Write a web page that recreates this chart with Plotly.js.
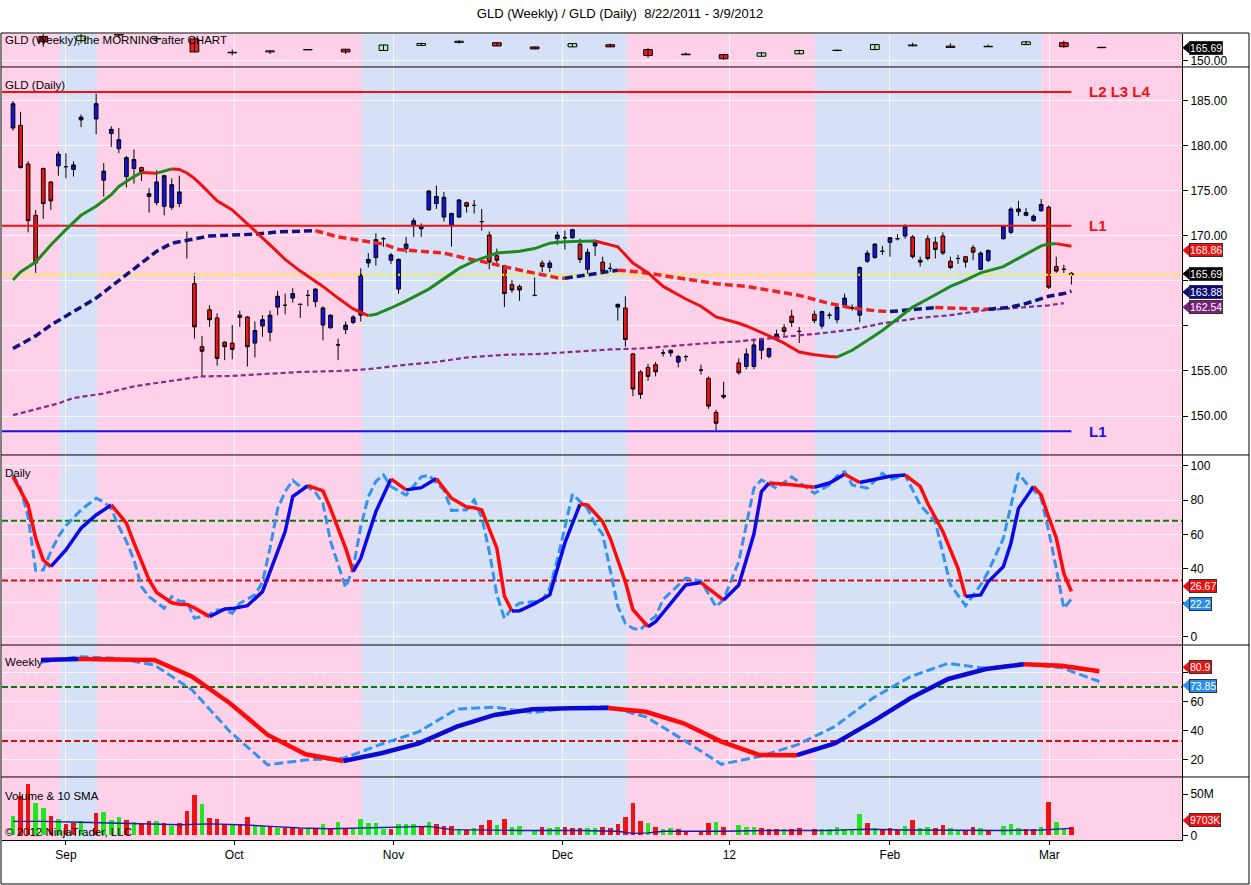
<!DOCTYPE html>
<html><head><meta charset="utf-8">
<script src="https://cdn.plot.ly/plotly-3.0.1.min.js"></script>
<style>html,body{margin:0;padding:0;background:#fff}#chart{width:1251px;height:885px}</style>
</head><body><div id="chart"></div>
<script>
// ---------------- DATA ----------------
const firstDay = '2011-08-22', lastDay = '2012-03-05';
const holidays = ['2011-09-05','2011-11-24','2011-12-26','2012-01-02','2012-01-16','2012-02-20'];

const dOpen = [182.0,182.3,178.0,172.3,177.5,176.0,177.8,177.7,177.4,182.9,
183.0,176.2,181.4,179.7,176.6,177.5,177.6,174.4,173.7,173.3,173.2,173.6,169.5,164.7,
157.7,161.8,160.9,158.2,158.1,161.2,161.0,158.1,160.0,159.3,162.1,162.3,163.1,162.4,163.4,
162.7,160.1,159.8,157.9,159.6,160.4,161.2,167.0,167.6,169.7,167.3,164.1,168.6,171.2,170.8,
172.9,173.6,172.1,171.2,172.1,173.7,173.4,171.6,170.1,167.8,166.7,164.6,164.4,163.4,
167.0,166.5,169.7,169.8,169.8,169.1,166.3,168.9,167.1,166.4,162.1,162.0,156.9,154.9,155.4,
155.7,157.0,157.0,156.0,156.6,155.1,154.2,150.4,152.3,155.9,155.5,155.5,157.3,
156.6,158.6,159.8,161.1,159.4,161.3,160.0,161.2,160.7,162.3,162.0,161.2,167.2,167.6,
168.3,169.3,169.7,170.0,169.9,167.3,169.7,169.3,170.0,167.2,167.5,167.7,168.7,166.3,167.3,
169.7,170.4,172.7,172.3,171.7,172.8,173.2,166.6,166.3,165.85];
const dHigh = [185.0,183.8,178.3,172.9,177.6,176.1,179.4,179.2,178.3,183.5,
185.8,178.1,182.2,182.0,178.9,179.6,177.7,175.3,177.3,176.8,176.4,176.7,170.5,165.9,
158.9,162.3,161.4,158.3,160.1,161.7,161.1,160.5,161.2,161.7,163.9,163.6,164.2,162.5,164.0,
164.2,162.2,161.3,158.6,160.5,161.2,166.4,168.1,170.3,169.9,168.1,167.5,169.9,172.0,171.4,
175.1,175.6,174.9,172.6,174.1,173.8,174.0,173.0,170.5,168.6,166.8,165.1,164.6,165.4,
167.3,167.3,170.5,170.6,170.8,169.7,168.6,169.6,167.7,167.0,162.5,163.3,157.0,155.1,155.8,
156.0,157.4,157.4,156.8,156.8,155.7,154.4,150.7,153.8,156.4,157.5,158.6,158.7,
157.6,159.6,160.2,161.8,159.9,161.7,161.7,161.5,162.3,163.6,162.4,166.6,168.4,169.2,
168.9,169.9,170.2,171.3,170.1,167.7,170.1,169.9,170.4,167.7,167.9,167.8,169.0,168.3,168.5,
171.2,173.2,173.9,173.1,172.4,174.1,173.4,167.7,166.8,166.0];
const dLow = [181.7,177.5,170.4,165.9,171.9,172.9,176.7,176.4,176.6,182.1,
181.3,174.4,179.9,179.2,175.4,175.8,176.1,172.6,173.4,172.3,172.9,173.2,167.5,158.6,
154.4,159.9,155.6,156.2,156.3,159.9,155.5,156.5,158.8,158.3,161.2,161.3,162.6,160.9,162.2,
162.1,158.4,159.7,156.2,159.1,160.2,160.5,166.5,166.7,168.8,166.9,163.6,168.1,169.9,169.9,
172.8,173.0,171.6,168.8,172.0,172.6,172.5,170.6,166.3,166.9,162.1,163.7,162.8,163.3,
166.0,166.0,169.0,168.5,169.7,167.0,165.7,167.8,165.9,166.0,160.6,157.7,152.2,151.9,153.9,
154.4,156.6,156.6,155.4,156.1,154.6,150.8,148.4,151.9,154.6,155.2,155.2,156.3,
156.4,158.5,158.9,159.9,158.1,160.3,159.7,160.8,160.3,162.0,161.7,160.4,167.0,167.5,
167.9,167.7,169.5,169.7,167.5,166.6,167.3,167.5,167.9,166.3,166.9,166.5,167.3,166.2,167.1,
169.6,170.2,172.2,172.2,171.6,172.7,164.1,165.9,165.9,164.6];
const dClose = [184.7,177.6,171.7,167.0,173.6,173.9,179.1,177.7,177.9,183.2,
184.7,177.2,181.85,180.7,178.7,178.5,177.15,174.7,176.0,176.7,175.7,174.9,169.5,159.9,
157.2,160.7,156.4,157.7,157.4,160.96,157.7,159.5,160.7,161.2,163.3,162.3,163.6,162.4,163.4,
164.1,162.0,161.2,157.9,160.1,161.0,165.7,167.4,169.6,169.7,167.9,167.4,169.1,171.7,171.1,
175.0,174.4,174.3,172.5,174.0,173.3,173.4,171.6,167.1,167.3,163.6,164.0,164.0,163.4,
166.6,167.0,170.1,169.8,170.7,167.4,168.2,169.3,166.1,166.4,162.4,158.5,153.0,152.4,154.4,
154.9,157.0,157.3,156.6,156.6,155.1,151.1,149.2,152.1,154.8,156.9,157.9,158.6,
157.5,159.1,159.4,160.4,159.4,160.6,161.6,161.2,162.1,163.1,162.0,166.5,168.1,169.1,
168.3,169.8,169.7,171.1,167.7,167.1,167.5,168.5,168.1,166.5,167.5,167.1,168.2,168.1,168.4,
171.1,173.0,173.0,172.6,172.2,173.5,164.3,166.1,166.3,165.69];

// volume in millions, and up/down colour read per bar (G / R)
const volM = [23.2,47.9,62.3,38.9,33.6,24.1,20.4,13.8,15.0,17.9,
27.4,28.2,19.1,22.4,19.1,15.8,13.8,17.9,17.9,15.0,10.9,15.0,29.4,48.8,
37.7,21.2,20.4,13.0,13.0,13.0,22.4,11.7,10.9,11.7,8.9,8.9,8.9,7.7,7.7,
7.7,13.8,7.7,16.3,8.9,7.7,20.4,15.0,15.0,8.0,8.0,14.2,13.4,14.2,10.3,
16.7,14.2,11.1,11.1,8.0,6.4,9.3,12.6,19.1,12.6,20.4,10.3,11.1,6.4,
10.3,9.3,10.3,10.3,8.4,9.3,9.3,8.4,10.3,8.4,14.2,22.8,38.9,17.9,15.4,
10.3,8.0,9.3,8.0,4.3,5.9,15.4,16.7,10.3,12.6,10.3,10.3,9.3,
8.0,8.0,8.0,8.0,9.3,8.0,8.0,8.0,10.3,8.0,8.0,26.5,15.4,9.3,
8.0,9.3,6.4,11.1,19.1,9.3,10.3,9.3,12.6,9.3,6.4,6.4,10.3,9.3,6.4,
11.1,14.2,9.3,8.0,7.2,10.3,40.1,16.7,8.0,9.703];
const volDir = "GRRGGRGRRG"+"RGGG"+"RGRRG"+"RGRRR"+"GRRRG"+"RRGGR"+"GRRRG"+"RGRGR"+"GGGGG"+"RGGGR"+"GRRRG"+"RGRRG"+"RGG"+"G"+"RGGRR"+"RGGRR"+"RRRRG"+"RGGRR"+"RRGR"+"GGGR"+"RRGRR"+"RGGG"+"GGGRG"+"RRRGR"+"GGRRG"+"GRRGR"+"GGGR"+"RGRGG"+"R";
const volSmaDates = ['2011-08-22','2011-08-26','2011-09-02','2011-09-08','2011-09-15','2011-09-21','2011-09-27','2011-10-03','2011-10-07','2011-10-13','2011-10-19','2011-10-25','2011-10-28','2011-11-07','2011-11-10','2011-11-17','2011-11-23','2011-12-05','2011-12-12','2011-12-14','2011-12-16','2011-12-20','2011-12-30','2012-01-09','2012-01-19','2012-01-24','2012-01-26','2012-02-02','2012-02-10','2012-02-21','2012-02-28','2012-03-02','2012-03-05'];
const volSmaM = [17,17,16,15,14,13,14,13,11,9,8,9,10,11,7,6,6,6,5,2.5,3,5,5,6,6,7,7.5,6.5,6,6,6.5,8,8.5];

// moving averages on the daily panel
const ma1Dates = ['2011-08-22','2011-08-23','2011-08-25','2011-08-29','2011-08-31','2011-09-02','2011-09-06','2011-09-08','2011-09-09','2011-09-13','2011-09-14','2011-09-15','2011-09-16','2011-09-19','2011-09-20','2011-09-21','2011-09-22','2011-09-23','2011-09-26','2011-09-27','2011-09-28','2011-09-30','2011-10-04','2011-10-06','2011-10-10','2011-10-11','2011-10-13','2011-10-18','2011-10-20','2011-10-24','2011-10-26','2011-10-27','2011-10-31','2011-11-02','2011-11-07','2011-11-09','2011-11-11','2011-11-15','2011-11-18','2011-11-23','2011-11-25','2011-11-29','2011-11-30','2011-12-02','2011-12-07','2011-12-12','2011-12-14','2011-12-16','2011-12-20','2011-12-23','2011-12-27','2011-12-29','2012-01-03','2012-01-04','2012-01-09','2012-01-11','2012-01-13','2012-01-17','2012-01-19','2012-01-20','2012-01-24','2012-01-26','2012-01-30','2012-02-01','2012-02-03','2012-02-07','2012-02-10','2012-02-14','2012-02-16','2012-02-21','2012-02-23','2012-02-27','2012-02-28','2012-02-29','2012-03-01','2012-03-02','2012-03-05'];
const ma1 = [165.1,166.0,167.1,169.0,170.7,172.3,173.3,174.6,175.5,176.6,177.05,177.0,176.98,177.2,177.44,177.4,177.0,176.4,175.6,174.7,173.9,172.9,171.4,169.8,168.2,167.4,166.1,164.4,163.1,161.9,161.15,161.3,162.0,162.8,164.1,165.3,166.4,167.2,168.1,168.3,168.6,169.2,169.3,169.4,169.45,168.8,167.0,165.9,164.4,163.0,162.2,161.0,160.3,160.0,158.9,158.1,157.1,156.8,156.6,156.55,157.3,158.4,159.5,160.8,162.1,163.0,164.4,165.1,165.9,166.6,167.5,168.4,168.9,169.1,169.15,169.0,168.86];
const ma2Dates = ['2011-08-22','2011-08-25','2011-08-29','2011-09-01','2011-09-06','2011-09-08','2011-09-13','2011-09-16','2011-09-20','2011-09-23','2011-09-27','2011-09-30','2011-10-05','2011-10-10','2011-10-17','2011-10-20','2011-10-25','2011-10-28','2011-11-01','2011-11-04','2011-11-09','2011-11-14','2011-11-17','2011-11-22','2011-11-25','2011-11-29','2011-11-30','2011-12-01','2011-12-06','2011-12-12','2011-12-15','2011-12-20','2011-12-23','2011-12-29','2012-01-04','2012-01-10','2012-01-13','2012-01-19','2012-01-24','2012-01-27','2012-01-31','2012-02-03','2012-02-08','2012-02-10','2012-02-15','2012-02-17','2012-02-22','2012-02-24','2012-02-29','2012-03-02','2012-03-05'];
const ma2 = [157.5,158.9,160.1,161.6,163.1,164.4,166.4,168.3,169.2,169.7,170.0,170.1,170.2,170.45,170.6,169.9,169.5,169.1,168.5,168.3,168.1,167.5,167.0,166.4,165.9,165.6,165.35,165.3,165.7,166.2,166.0,165.6,165.2,164.7,164.4,163.8,163.4,162.5,162.0,161.7,161.6,161.8,162.05,162.0,161.9,161.85,162.1,162.5,163.3,163.6,163.88];
const ma3Dates = ['2011-08-22','2011-08-30','2011-09-01','2011-09-07','2011-09-13','2011-09-19','2011-09-26','2011-09-30','2011-10-10','2011-10-13','2011-10-20','2011-10-26','2011-11-02','2011-11-08','2011-11-14','2011-11-21','2011-11-28','2011-12-02','2011-12-09','2011-12-15','2011-12-21','2011-12-28','2012-01-03','2012-01-10','2012-01-18','2012-01-24','2012-01-30','2012-02-06','2012-02-10','2012-02-16','2012-02-23','2012-02-29','2012-03-02'];
const ma3 = [150.1,151.4,152.0,152.5,153.3,153.8,154.4,154.45,154.7,154.9,155.0,155.2,155.7,156.0,156.5,156.8,156.9,157.1,157.4,157.5,157.8,158.1,158.3,158.7,159.2,159.6,160.3,160.9,161.2,161.7,162.0,162.3,162.54];
const levels = {L234: 186.0, L1up: 171.15, L1dn: 148.3};

// daily stochastic (sampled)
const stSlowDates = ['2011-08-22','2011-08-24','2011-08-25','2011-08-26','2011-08-29','2011-08-31','2011-09-02','2011-09-06','2011-09-08','2011-09-12','2011-09-13','2011-09-15','2011-09-16','2011-09-20','2011-09-21','2011-09-22','2011-09-23','2011-09-27','2011-09-29','2011-09-30','2011-10-04','2011-10-06','2011-10-07','2011-10-11','2011-10-12','2011-10-14','2011-10-18','2011-10-19','2011-10-21','2011-10-24','2011-10-25','2011-10-27','2011-10-31','2011-11-02','2011-11-04','2011-11-08','2011-11-10','2011-11-14','2011-11-15','2011-11-16','2011-11-18','2011-11-21','2011-11-22','2011-11-23','2011-11-25','2011-11-29','2011-12-01','2011-12-05','2011-12-06','2011-12-08','2011-12-09','2011-12-13','2011-12-14','2011-12-16','2011-12-19','2011-12-21','2011-12-23','2011-12-27','2011-12-30','2012-01-03','2012-01-05','2012-01-06','2012-01-09','2012-01-11','2012-01-12','2012-01-17','2012-01-19','2012-01-23','2012-01-25','2012-01-30','2012-01-31','2012-02-02','2012-02-06','2012-02-07','2012-02-09','2012-02-13','2012-02-14','2012-02-16','2012-02-17','2012-02-21','2012-02-22','2012-02-23','2012-02-27','2012-02-28','2012-02-29','2012-03-01','2012-03-02','2012-03-05'];
const stSlow = [93.8,77.2,57.7,45.0,41.1,50.9,63.6,71.3,77.2,66.5,55,33.3,26,20.0,19.1,19.0,17,11.9,16.4,16.6,18.3,26.5,38.2,61.6,82.1,88.5,85.4,75,51.9,38.2,46.0,73.3,92.4,86.0,87.3,92.6,81.1,76,75.5,74.3,51.9,24,15.2,15.3,19.5,24.6,55,77.6,77.2,67.4,57.7,32.3,16,6.0,8.9,19.7,30.4,31.8,21.6,30.4,60,85.0,90.0,89.5,89,87.5,90,95.1,90.3,92.7,94,94.7,88,78,61.6,40.2,23.6,24.6,32.3,41.1,54.8,75.2,88,83.0,70,58,37.2,26.67];
const stFastDates = ['2011-08-22','2011-08-23','2011-08-24','2011-08-25','2011-08-26','2011-08-29','2011-08-30','2011-08-31','2011-09-02','2011-09-06','2011-09-07','2011-09-08','2011-09-09','2011-09-12','2011-09-13','2011-09-14','2011-09-15','2011-09-19','2011-09-20','2011-09-21','2011-09-22','2011-09-23','2011-09-27','2011-09-28','2011-09-29','2011-09-30','2011-10-03','2011-10-05','2011-10-06','2011-10-07','2011-10-10','2011-10-11','2011-10-12','2011-10-13','2011-10-14','2011-10-17','2011-10-18','2011-10-19','2011-10-21','2011-10-24','2011-10-25','2011-10-26','2011-10-27','2011-10-28','2011-10-31','2011-11-02','2011-11-04','2011-11-07','2011-11-09','2011-11-10','2011-11-14','2011-11-15','2011-11-16','2011-11-17','2011-11-18','2011-11-21','2011-11-22','2011-11-23','2011-11-25','2011-11-28','2011-11-29','2011-11-30','2011-12-01','2011-12-02','2011-12-06','2011-12-07','2011-12-08','2011-12-09','2011-12-12','2011-12-13','2011-12-14','2011-12-15','2011-12-16','2011-12-19','2011-12-20','2011-12-23','2011-12-27','2011-12-29','2011-12-30','2012-01-03','2012-01-05','2012-01-06','2012-01-10','2012-01-12','2012-01-17','2012-01-19','2012-01-20','2012-01-23','2012-01-24','2012-01-26','2012-01-30','2012-01-31','2012-02-02','2012-02-06','2012-02-08','2012-02-10','2012-02-14','2012-02-16','2012-02-17','2012-02-21','2012-02-23','2012-02-24','2012-02-27','2012-02-28','2012-02-29','2012-03-01','2012-03-02','2012-03-05'];
const stFast = [94.7,87,70,39,39.2,49.9,58.7,65,74.3,81.1,79,75,64.5,56,45,29.4,23.6,16.8,23.6,21,20.7,10.9,13.2,15.8,15.8,13.8,19.7,24.6,32,52,75,85,91.5,88,87.6,84.5,78,56,29,40.2,64.5,82,91,94.7,88,83,93.6,94.5,86,74,74.3,80.1,70,50,24.6,10.9,16.8,19.7,20.7,21.6,28.5,45,64,83.4,75.2,66,60,38.2,18,8,5,4.2,9,12,22,34.4,32.8,17.7,22,44.1,87,91.8,87,93.6,84,88.9,94,96.7,88.9,87,95.7,92,94.7,77.2,67.4,30.4,18.3,30.4,38.2,57.7,95.7,90,86,81.1,62,40,16.8,22.2];
const dailyLevels = [68, 33];

// weekly bars (week ending Friday) and weekly stochastic
const wDates = ['2011-08-26','2011-09-02','2011-09-09','2011-09-16','2011-09-23','2011-09-30','2011-10-07','2011-10-14','2011-10-21','2011-10-28','2011-11-04','2011-11-11','2011-11-18','2011-11-25','2011-12-02','2011-12-09','2011-12-16','2011-12-23','2011-12-30','2012-01-06','2012-01-13','2012-01-20','2012-01-27','2012-02-03','2012-02-10','2012-02-17','2012-02-24','2012-03-02','2012-03-09'];
const wOpen  = [179.5,174.3,182.4,176.7,176.5,160.0,160.5,163.0,163.8,162.2,168.5,172.2,171.8,166.6,166.7,169.3,163.4,157.8,157.2,155.2,158.1,162.4,163.4,168.0,167.6,166.8,169.5,171.8,166.2];
const wHigh  = [183.3,183.3,185.1,180.0,178.9,163.4,162.0,163.9,164.2,169.2,171.5,174.8,172.2,166.9,171.0,170.7,165.5,159.9,157.6,160.4,163.2,163.4,169.8,171.8,171.1,169.5,174.0,174.4,166.3];
const wLow   = [166.9,171.1,177.7,173.5,160.0,156.4,158.0,162.7,158.1,161.8,167.8,170.7,167.6,163.8,166.5,166.5,153.4,156.9,150.6,154.9,158.0,161.3,163.2,167.4,165.7,166.5,169.4,165.5,165.5];
const wClose = [173.0,180.0,181.2,176.5,160.5,159.4,161.8,163.4,160.5,169.0,170.9,173.6,167.8,164.2,170.7,166.7,156.0,157.0,152.1,159.3,162.2,162.2,169.5,169.0,166.0,167.4,172.8,166.9,165.69];
const wStSlow = [88.6,89.3,89.0,88.6,77.2,58.9,37.2,23.9,19.3,24.6,31.4,42.9,50.9,54.8,55.5,55.6,53.1,45.2,32.6,23.4,23.3,31.4,46.3,62.3,75.6,82.4,85.7,84.7,80.9];
const wStFast = [87.0,90.9,89.8,85.2,68.0,39.4,16.6,20.0,21.1,30.8,39.4,55.0,56.2,52.5,55.9,56.6,49.7,33.7,17.0,22.3,30.3,42.9,62.3,77.2,86.3,82.9,86.3,83.3,73.85];
const weeklyLevels = [70, 33];

// background bands (weekly trend state), month labels
const bandEdges = ['2011-08-30 05:00','2011-09-06 03:00','2011-10-25 04:00','2011-12-13 05:00','2012-01-17 02:00','2012-02-28 03:00'];
const monthTicks = ['2011-08-31','2011-09-30 06:00','2011-10-31 08:00','2011-11-30 16:00','2011-12-30 18:00','2012-01-31','2012-02-29 02:00'];
const monthLabels = ['Sep','Oct','Nov','Dec','12','Feb','Mar'];
const viewStart = '2011-08-18 13:05', viewEnd = '2012-03-23 15:07';

// right-axis ticks (labels hidden where the value tags sit, as in the original)
const priceTicks = [150,155,160,165,170,175,180,185];
const priceTickText = ['150.00','155.00','','','170.00','175.00','180.00','185.00'];
const dStochTicks = [0,20,40,60,80,100], dStochText = ['0','','40','60','80','100'];
const wStochTicks = [20,40,60,80], wStochText = ['20','40','60',''];

// ---------------- HELPERS ----------------
const day0 = Date.UTC(2011,7,22);
function slot(ds){ // weekday slot number (weekends collapsed, holidays keep their slot)
  const t = Date.parse(ds.length===10 ? ds+'T00:00:00Z' : ds.replace(' ','T')+':00Z');
  const d = (t-day0)/86400000; const w = Math.floor(d/7); let r = d-7*w; if(r>5) r=5;
  return w*5+r;
}
function tradingDays(){
  const out=[]; let t=Date.parse(firstDay+'T00:00:00Z'); const end=Date.parse(lastDay+'T00:00:00Z');
  while(t<=end){ const dt=new Date(t); const wd=dt.getUTCDay(); const s=dt.toISOString().slice(0,10);
    if(wd!==0 && wd!==6 && !holidays.includes(s)) out.push(s); t+=86400000; }
  return out;
}
const days = tradingDays();
const X = days.map(slot);
const R = [slot(viewStart), slot(viewEnd)];
const F = 'Liberation Sans, Arial, sans-serif';

function dirRuns(xs, ys, upC, dnC){
  const runs=[]; let cur=null;
  for(let i=1;i<ys.length;i++){
    const c = ys[i]>=ys[i-1] ? upC : dnC;
    if(!cur || cur.c!==c){ cur={x:[xs[i-1]],y:[ys[i-1]],c}; runs.push(cur); }
    cur.x.push(xs[i]); cur.y.push(ys[i]);
  }
  return runs;
}
const traces=[];
function addRuns(xs, ys, upC, dnC, width, dash, xa, ya){
  dirRuns(xs, ys, upC, dnC).forEach(r=>traces.push({type:'scatter',mode:'lines',x:r.x,y:r.y,xaxis:xa,yaxis:ya,
    line:{color:r.c,width,dash,shape:'linear'},hoverinfo:'skip',showlegend:false}));
}
function hline(y, color, width, dash, x0, x1, xa, ya){
  traces.push({type:'scatter',mode:'lines',x:[x0,x1],y:[y,y],xaxis:xa,yaxis:ya,line:{color,width,dash},hoverinfo:'skip',showlegend:false});
}

// ---------------- TRACES ----------------
// weekly candles (top panel)
const wX = wDates.map(slot);
const wk = {x:[],y:[]};
wX.forEach((x,i)=>{ wk.x.push(x,x,null); wk.y.push(wHigh[i],wLow[i],null); });
traces.push({type:'scatter',mode:'lines',x:wk.x,y:wk.y,xaxis:'x',yaxis:'y',line:{color:'#000',width:1},hoverinfo:'skip',showlegend:false});
traces.push({type:'bar',x:wX,base:wOpen.map((o,i)=>Math.min(o,wClose[i])),
  y:wOpen.map((o,i)=>Math.max(Math.abs(wClose[i]-o),0.35)),width:1.15,xaxis:'x',yaxis:'y',
  marker:{color:wOpen.map((o,i)=>wClose[i]>o?'#b2efb2':'#ee1c1c'),line:{color:'#000',width:1}},hoverinfo:'skip',showlegend:false});

// main panel
hline(dClose[dClose.length-1], '#f5f500', 2, '2px,2px', R[0], R[1], 'x2', 'y2');
hline(levels.L234, '#ee1111', 2, 'solid', R[0], X[X.length-1], 'x2', 'y2');
hline(levels.L1up, '#ee1111', 2, 'solid', R[0], X[X.length-1], 'x2', 'y2');
hline(levels.L1dn, '#1515dd', 2, 'solid', R[0], X[X.length-1], 'x2', 'y2');
traces.push({type:'scatter',mode:'lines',x:ma3Dates.map(slot),y:ma3,xaxis:'x2',yaxis:'y2',line:{color:'#8a2b8a',width:2.2,dash:'5px,3px'},hoverinfo:'skip',showlegend:false});
addRuns(ma2Dates.map(slot), ma2, '#12127e', '#ee2222', 3.5, '8px,4px', 'x2', 'y2');
addRuns(ma1Dates.map(slot), ma1, '#1f8a1f', '#ee1111', 3, 'solid', 'x2', 'y2');
traces.push({type:'candlestick',x:X,open:dOpen,high:dHigh,low:dLow,close:dClose,xaxis:'x2',yaxis:'y2',
  increasing:{line:{color:'#000',width:1},fillcolor:'#1414e0'},decreasing:{line:{color:'#000',width:1},fillcolor:'#ee1414'},
  whiskerwidth:0,hoverinfo:'skip',showlegend:false});

// daily stochastic
hline(dailyLevels[0], '#0a7a0a', 2, '6px,3px', R[0], R[1], 'x3', 'y3');
hline(dailyLevels[1], '#d01010', 2, '6px,3px', R[0], R[1], 'x3', 'y3');
traces.push({type:'scatter',mode:'lines',x:stFastDates.map(slot),y:stFast,xaxis:'x3',yaxis:'y3',line:{color:'#3393ee',width:3,dash:'9px,4px'},hoverinfo:'skip',showlegend:false});
addRuns(stSlowDates.map(slot), stSlow, '#0a0ae6', '#ff0a0a', 3.5, 'solid', 'x3', 'y3');

// weekly stochastic
hline(weeklyLevels[0], '#0a7a0a', 2, '6px,3px', R[0], R[1], 'x4', 'y4');
hline(weeklyLevels[1], '#d01010', 2, '6px,3px', R[0], R[1], 'x4', 'y4');
traces.push({type:'scatter',mode:'lines',x:wX.map(x=>x-0.3),y:wStFast,xaxis:'x4',yaxis:'y4',line:{color:'#3393ee',width:3,dash:'9px,4px'},hoverinfo:'skip',showlegend:false});
addRuns(wX.map(x=>x-0.3), wStSlow, '#0a0ad0', '#ff0a0a', 4.5, 'solid', 'x4', 'y4');

// volume
traces.push({type:'bar',x:X,y:volM.map(v=>v*1e6),width:0.6,xaxis:'x5',yaxis:'y5',
  marker:{color:volDir.split('').map(c=>c==='G'?'#1ee81e':'#ee1414'),line:{width:0}},hoverinfo:'skip',showlegend:false});
traces.push({type:'scatter',mode:'lines',x:volSmaDates.map(slot),y:volSmaM.map(v=>v*1e6),xaxis:'x5',yaxis:'y5',line:{color:'#1c1ca0',width:1.4},hoverinfo:'skip',showlegend:false});

// ---------------- LAYOUT ----------------
const H = 806; // plot height px (t=34, b=45)
const dom = {w:[0.9591,1], m:[0.4777,0.9591], ds:[0.2419,0.4777], ws:[0.0782,0.2419], v:[0,0.0782]};
const grid = 'rgba(255,255,255,0.75)';
const tickPos = monthTicks.map(slot);
function xa(anchor, labels){
  return {domain:[0,1],anchor,range:R,type:'linear',tickmode:'array',tickvals:tickPos,ticktext:monthLabels,
    showticklabels:labels,ticks:labels?'outside':'',ticklen:4,tickcolor:'#000',showgrid:true,gridcolor:grid,gridwidth:1,
    zeroline:false,showline:labels,linecolor:'#000',linewidth:1,fixedrange:true,automargin:false,
    rangeslider:{visible:false},tickfont:{family:F,size:12,color:'#000'}};
}
function ya(anchor, domain, range, extra){
  return Object.assign({domain,anchor,range,side:'right',ticks:'outside',ticklen:5,tickcolor:'#000',showline:true,linecolor:'#000',linewidth:1,
    showgrid:true,gridcolor:grid,zeroline:false,fixedrange:true,automargin:false,tickfont:{family:F,size:12,color:'#000'}}, extra);
}
const shapes=[];
// background bands
const edges=[R[0], ...bandEdges.map(slot), R[1]];
for(let i=0;i<edges.length-1;i++){
  shapes.push({type:'rect',xref:'x',yref:'paper',x0:edges[i],x1:edges[i+1],y0:0,y1:1,layer:'below',line:{width:0},fillcolor: i%2===0?'#ffd1e9':'#d6e0f6'});
}
// panel separators & frame
const pxX = p => (p-2)/1180, pxY = p => (840-p)/H;
[dom.w[0],dom.m[0],dom.ds[0],dom.ws[0]].forEach(y=>shapes.push({type:'line',xref:'paper',yref:'paper',x0:pxX(1),x1:pxX(1249),y0:y,y1:y,line:{color:'#000',width:1}}));
shapes.push({type:'rect',xref:'paper',yref:'paper',x0:pxX(1),x1:pxX(1249),y0:pxY(884),y1:pxY(33),line:{color:'#000',width:1}});

const annotations=[];
function txt(text, py, size){ annotations.push({xref:'paper',yref:'paper',x:pxX(3),y:pxY(py),xanchor:'left',yanchor:'middle',text,showarrow:false,font:{family:F,size:size||11.5,color:'#000'}}); }
txt('GLD (Weekly), the MORNING after CHART', 40);
txt('GLD (Daily)', 85);
txt('Daily', 473);
txt('Weekly', 662);
txt('Volume &amp; 10 SMA', 796);
txt('© 2012 NinjaTrader, LLC', 832);
function lvlLabel(text, y, color){ annotations.push({xref:'paper',yref:'y2',x:pxX(1087),y,xanchor:'left',yanchor:'middle',text:'<b>'+text+'</b>',showarrow:false,font:{family:'Liberation Sans Narrow, Liberation Sans, Arial',size:15,color}}); }
lvlLabel('L2 L3 L4', levels.L234, '#ee1111');
lvlLabel('L1', levels.L1up, '#ee1111');
lvlLabel('L1', levels.L1dn, '#1515dd');
function tag(yref, val, text, bg, ys){
  ys = ys||0;
  shapes.push({type:'path',xref:'paper',yref,xsizemode:'pixel',ysizemode:'pixel',xanchor:1,yanchor:val,path:`M 1 ${ys} L 8 ${ys+6} L 8 ${ys-6} Z`,fillcolor:bg,line:{color:bg,width:1}});
  annotations.push({xref:'paper',yref,x:1,y:val,xanchor:'left',yanchor:'middle',xshift:7,yshift:ys,text,showarrow:false,bgcolor:bg,bordercolor:'#333',borderwidth:1,borderpad:0,font:{family:F,size:10.5,color:'#fff'}});
}
const lastC = dClose[dClose.length-1];
tag('y', wClose[wClose.length-1], wClose[wClose.length-1].toFixed(2), '#000');
tag('y2', ma1[ma1.length-1], ma1[ma1.length-1].toFixed(2), '#ee1111', -4);
tag('y2', lastC, lastC.toFixed(2), '#000', 1);
tag('y2', ma2[ma2.length-1], ma2[ma2.length-1].toFixed(2), '#0c0c78', -1);
tag('y2', ma3[ma3.length-1], ma3[ma3.length-1].toFixed(2), '#7a1f7a', -4);
tag('y3', stSlow[stSlow.length-1], String(stSlow[stSlow.length-1]), '#ee1111', 5);
tag('y3', stFast[stFast.length-1], String(stFast[stFast.length-1]), '#2b8fee', -5);
tag('y4', wStSlow[wStSlow.length-1], String(wStSlow[wStSlow.length-1]), '#ee1111', 4);
tag('y4', wStFast[wStFast.length-1], String(wStFast[wStFast.length-1]), '#2b8fee', -4);
tag('y5', volM[volM.length-1]*1e6, Math.round(volM[volM.length-1]*1000)+'K', '#ee1111', 7);

const layout = {
  width:1251, height:885, margin:{l:2,r:69,t:34,b:45,autoexpand:false}, paper_bgcolor:'#fff', plot_bgcolor:'rgba(0,0,0,0)',
  showlegend:false, hovermode:false, dragmode:false, bargap:0,
  title:{text:'GLD (Weekly) / GLD (Daily)\u00a0\u00a08/22/2011 - 3/9/2012', x:620/1251, xref:'container', xanchor:'center', y:1-13/885, yref:'container', yanchor:'middle', font:{family:F,size:13,color:'#000'}},
  xaxis:xa('y',false), xaxis2:xa('y2',false), xaxis3:xa('y3',false), xaxis4:xa('y4',false), xaxis5:xa('y5',true),
  yaxis:ya('x',dom.w,[142.0,182.5],{tickmode:'array',tickvals:[150],ticktext:['150.00']}),
  yaxis2:ya('x2',dom.m,[145.67,188.78],{tickmode:'array',tickvals:priceTicks,ticktext:priceTickText}),
  yaxis3:ya('x3',dom.ds,[-4.7,106.4],{tickmode:'array',tickvals:dStochTicks,ticktext:dStochText}),
  yaxis4:ya('x4',dom.ws,[8.3,98.9],{tickmode:'array',tickvals:wStochTicks,ticktext:wStochText}),
  yaxis5:ya('x5',dom.v,[-5.6e6,71e6],{tickmode:'array',tickvals:[0,50e6],ticktext:['0','50M'],showgrid:false}),
  shapes, annotations
};
Plotly.newPlot('chart', traces, layout, {staticPlot:true, displayModeBar:false});
</script></body></html>
